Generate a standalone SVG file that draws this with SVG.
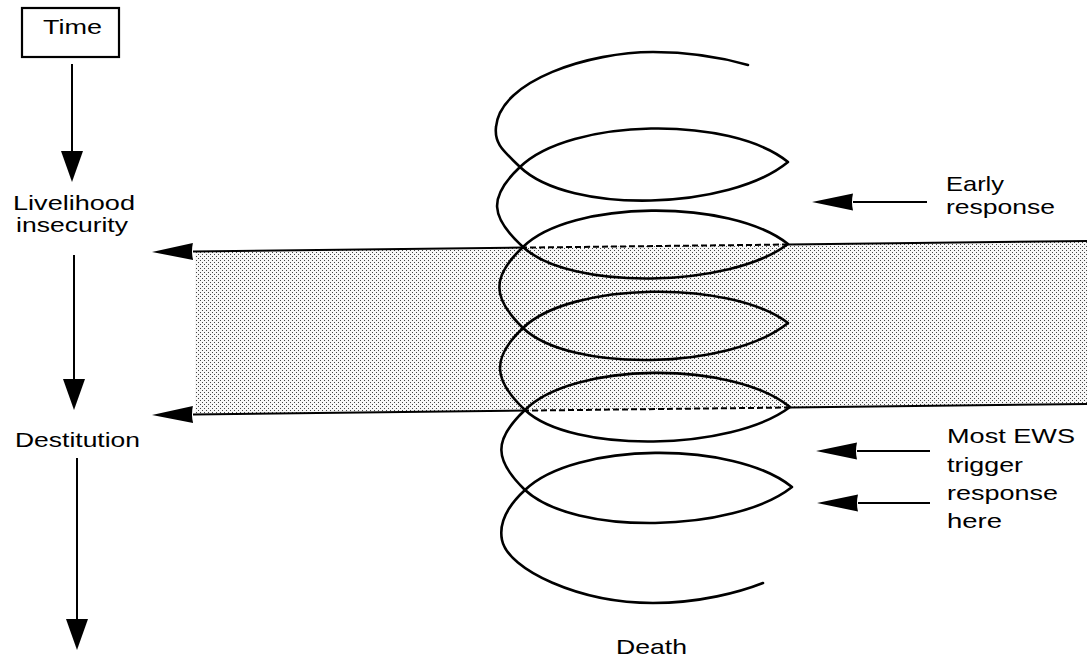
<svg xmlns="http://www.w3.org/2000/svg" width="1087" height="659" viewBox="0 0 1087 659">
<style>
  text { font-family: "Liberation Sans", Arial, sans-serif; font-size: 21px; fill: #000; }
  .ln { stroke: #000; stroke-width: 2; fill: none; }
  .dash { stroke: #000; stroke-width: 2; fill: none; stroke-dasharray: 6 3; }
  .spiral { stroke: #000; stroke-width: 2.6; fill: none; stroke-linejoin: round; stroke-linecap: round; }
  .box { stroke: #000; stroke-width: 2.2; fill: #fff; }
</style>
<defs>
  <pattern id="dots" width="4" height="4" patternUnits="userSpaceOnUse">
    <rect x="0" y="0" width="4" height="4" fill="#f7f7f7"/>
    <rect x="0" y="0" width="1" height="1" fill="#444"/>
    <rect x="2" y="2" width="1" height="1" fill="#444"/>
  </pattern>
  <marker id="hh" markerUnits="userSpaceOnUse" viewBox="0 0 41 17" refX="0" refY="8.5" markerWidth="41" markerHeight="17" orient="auto" overflow="visible">
    <path d="M41,8.5 L0,0 Q2,8.5 0,17 Z" fill="#000"/>
  </marker>
  <marker id="vh" markerUnits="userSpaceOnUse" viewBox="0 0 31 22" refX="0" refY="11" markerWidth="31" markerHeight="22" orient="auto" overflow="visible">
    <path d="M31,11 L0,0 L0,22 Z" fill="#000"/>
  </marker>
</defs>

<rect width="1087" height="659" fill="#fff"/>

<g id="band">
  <polygon points="195,251.5 1087,241 1087,404 195,414.5" fill="url(#dots)"/>
</g>

<g id="spiral">
  <path class="spiral" d="M748,65 C720,57 690,52 653,52 C590,52 500,80 496,127 C494,145 505,152 520,167
    C570,215 730,210 788,162 C730,115 570,118 520,167
    C488,197 490,217 523,247
    C570,291 730,288 788,244 C730,198 570,200 523,247
    C491,277 492,298 523,328
    C570,373 730,370 788,323 C730,279 570,282 523,328
    C491,358 493,380 525,410
    C572,454 732,451 790,407 C732,360 572,362 525,410
    C493,440 494,460 525,490
    C574,536 734,533 792,487 C734,440 574,442 525,490
    C500,513 500,530 502,540 C508,570 580,603 653,603 C700,603 740,592 763,583"/>
</g>

<g id="connectors">
  <line class="ln" x1="72" y1="64" x2="72" y2="151" marker-end="url(#vh)"/>
  <line class="ln" x1="74" y1="255" x2="74" y2="379" marker-end="url(#vh)"/>
  <line class="ln" x1="77" y1="458" x2="77" y2="619" marker-end="url(#vh)"/>

  <line class="ln" x1="1087" y1="241" x2="788" y2="244.5"/>
  <line class="dash" x1="788" y1="244.5" x2="523" y2="247.6"/>
  <line class="ln" x1="523" y1="247.6" x2="193" y2="251.5" marker-end="url(#hh)"/>

  <line class="ln" x1="1087" y1="404" x2="790" y2="407.5"/>
  <line class="dash" x1="790" y1="407.5" x2="525" y2="410.6"/>
  <line class="ln" x1="525" y1="410.6" x2="193" y2="414.5" marker-end="url(#hh)"/>

  <line class="ln" x1="927" y1="202" x2="853" y2="202" marker-end="url(#hh)"/>
  <line class="ln" x1="930" y1="451" x2="857" y2="451" marker-end="url(#hh)"/>
  <line class="ln" x1="930" y1="503" x2="858" y2="503" marker-end="url(#hh)"/>
</g>

<g id="time">
  <rect class="box" x="22" y="8" width="97" height="49"/>
  <text x="43" y="34" textLength="59" lengthAdjust="spacingAndGlyphs">Time</text>
</g>

<g id="livelihood">
  <text x="13" y="210" textLength="122" lengthAdjust="spacingAndGlyphs">Livelihood</text>
  <text x="16" y="232" textLength="112" lengthAdjust="spacingAndGlyphs">insecurity</text>
</g>

<g id="destitution">
  <text x="15" y="447" textLength="125" lengthAdjust="spacingAndGlyphs">Destitution</text>
</g>

<g id="early">
  <text x="946" y="191" textLength="58" lengthAdjust="spacingAndGlyphs">Early</text>
  <text x="946" y="214" textLength="109" lengthAdjust="spacingAndGlyphs">response</text>
</g>

<g id="ews">
  <text x="947" y="443" textLength="128" lengthAdjust="spacingAndGlyphs">Most EWS</text>
  <text x="947" y="472" textLength="76" lengthAdjust="spacingAndGlyphs">trigger</text>
  <text x="947" y="500" textLength="111" lengthAdjust="spacingAndGlyphs">response</text>
  <text x="947" y="528" textLength="55" lengthAdjust="spacingAndGlyphs">here</text>
</g>

<g id="death">
  <text x="616" y="654" textLength="71" lengthAdjust="spacingAndGlyphs">Death</text>
</g>
</svg>
